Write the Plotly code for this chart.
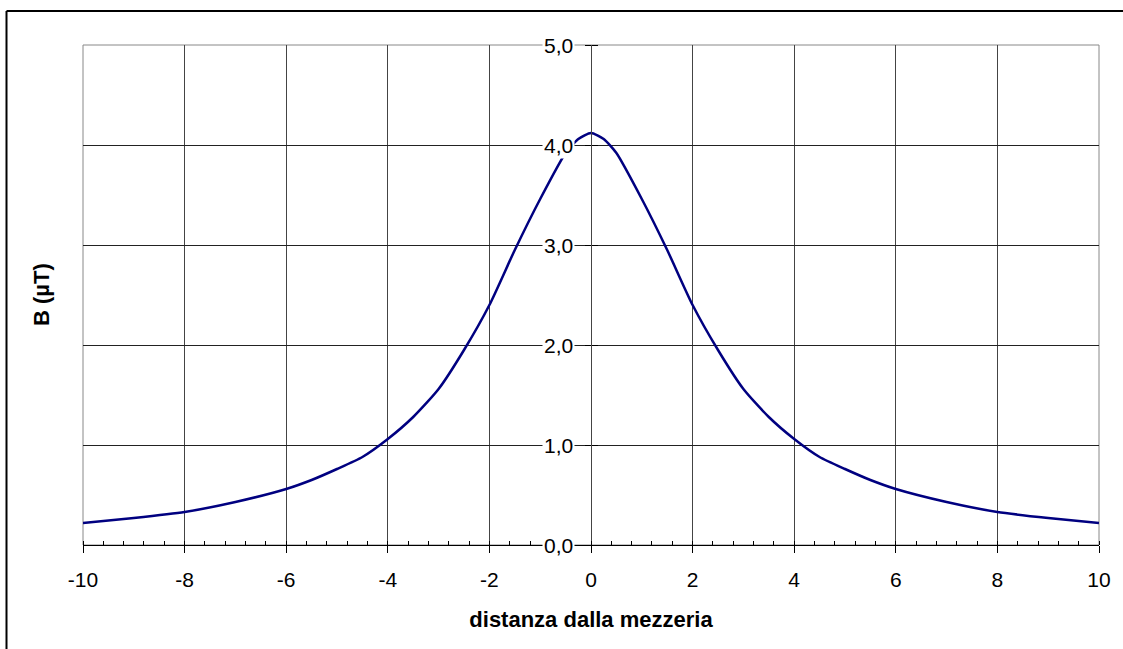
import plotly.graph_objects as go

# distance from centre line and field values
x_pos = [0, 0.25, 0.5, 1, 1.5, 2, 2.5, 3, 3.5, 4, 4.5, 5, 5.5, 6, 7, 8, 9, 10]
b_pos = [4.12, 4.06, 3.92, 3.46, 2.95, 2.40, 1.95, 1.56, 1.28, 1.06, 0.88, 0.76, 0.65, 0.56, 0.43, 0.33, 0.27, 0.22]

x_vals = [-v for v in x_pos[::-1]] + x_pos[1:]
b_vals = b_pos[::-1] + b_pos[1:]

y_ticks = [0, 1, 2, 3, 4, 5]
y_tick_labels = ["0,0", "1,0", "2,0", "3,0", "4,0", "5,0"]
x_ticks = [-10, -8, -6, -4, -2, 0, 2, 4, 6, 8, 10]
x_tick_labels = ["-10", "-8", "-6", "-4", "-2", "0", "2", "4", "6", "8", "10"]

FONT = "Liberation Sans, Arial, sans-serif"
TICK_SIZE = 21
TITLE_SIZE = 22

fig = go.Figure()
fig.add_trace(go.Scatter(x=x_vals, y=b_vals, mode="lines",
                         line=dict(color="#000080", width=2.5, shape="spline", smoothing=0.6),
                         showlegend=False, hoverinfo="skip"))

# invisible trace for the right-facing tick half on the y axis
fig.add_trace(go.Scatter(x=[0], y=[0], yaxis="y2", mode="markers",
                         marker=dict(opacity=0), showlegend=False, hoverinfo="skip"))

fig.update_layout(
    width=1123, height=649,
    margin=dict(l=83, r=24, t=45, b=104),
    paper_bgcolor="white", plot_bgcolor="white",
    font=dict(family=FONT, size=TICK_SIZE, color="black"),
    xaxis=dict(range=[-10, 10], tickvals=x_ticks, ticktext=x_tick_labels,
               showgrid=True, gridcolor="#444444", gridwidth=1,
               zeroline=False, showline=True, linecolor="black", linewidth=1,
               ticks="outside", ticklen=7, tickcolor="black", tickwidth=1,
               ticklabelstandoff=9,
               minor=dict(dtick=0.4, ticks="inside", ticklen=4, tickcolor="black", showgrid=False),
               tickfont=dict(family=FONT, size=TICK_SIZE),
               title=dict(text="<b>distanza dalla mezzeria</b>", font=dict(family=FONT, size=TITLE_SIZE),
                          standoff=21)),
    yaxis=dict(range=[0, 5], tickvals=y_ticks, showticklabels=False, showgrid=True,
               gridcolor="#222222", gridwidth=1, zeroline=False,
               anchor="free", position=0.5, showline=True, linecolor="#444444",
               ticks="outside", ticklen=6, tickcolor="black"),
    yaxis2=dict(range=[0, 5], tickvals=y_ticks, showticklabels=False, showgrid=False,
                zeroline=False, overlaying="y", anchor="free", position=0.5, side="right",
                ticks="outside", ticklen=6, tickcolor="black", showline=False),
)

# y tick labels with white background (they cover grid lines)
for v, lab in zip(y_ticks, y_tick_labels):
    fig.add_annotation(x=0, y=v, xref="x", yref="y", text=lab, showarrow=False,
                       xanchor="right", yanchor="middle", xshift=-16,
                       font=dict(family=FONT, size=TICK_SIZE, color="black"),
                       bgcolor="white", borderpad=1)

# y axis title
fig.add_annotation(x=(41 - 83) / 1016, y=0.5, xref="paper", yref="paper", text="<b>B (µT)</b>",
                   textangle=-90, showarrow=False, font=dict(family=FONT, size=TITLE_SIZE, color="black"),
                   xanchor="center", yanchor="middle")

# plot area border
fig.add_shape(type="rect", xref="paper", yref="paper", x0=0, x1=1, y0=0, y1=1,
              line=dict(color="#888888", width=1), layer="below")
# outer chart border (only the left and top edges are inside the picture)
fig.add_shape(type="line", xref="paper", yref="paper",
              x0=(6.5 - 83) / 1016, x1=(6.5 - 83) / 1016,
              y0=(545 - 700) / 500, y1=(545 - 11) / 500,
              line=dict(color="black", width=2))
fig.add_shape(type="line", xref="paper", yref="paper",
              x0=(6.5 - 83) / 1016, x1=(1300 - 83) / 1016,
              y0=(545 - 11) / 500, y1=(545 - 11) / 500,
              line=dict(color="black", width=2))

fig.write_html("out.html", config={"displayModeBar": False},
               post_script="document.body.style.margin='0';document.body.style.overflow='hidden';"
                           "document.documentElement.style.overflow='hidden';")
